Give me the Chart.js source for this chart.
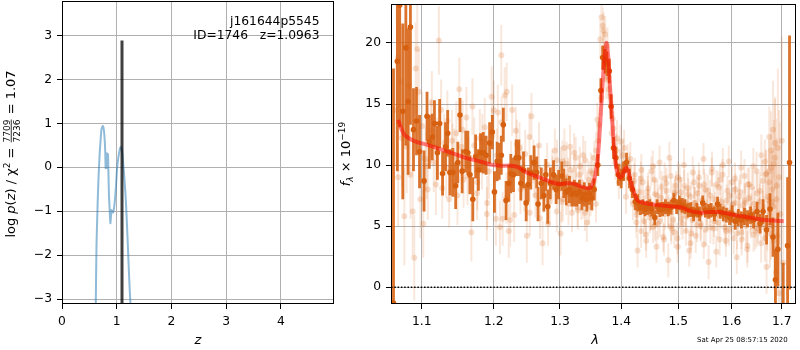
<!DOCTYPE html>
<html><head><meta charset="utf-8">
<script src="https://cdn.jsdelivr.net/npm/chart.js@4.4.1/dist/chart.umd.min.js"></script>
<style>
html,body{margin:0;padding:0;background:#fff;}
#wrap{position:relative;width:800px;height:350px;overflow:hidden;background:#fff;}
#c1{position:absolute;left:0;top:0;}
#c2{position:absolute;left:330px;top:0;}
</style></head><body>
<div id="wrap">
<canvas id="c1" width="340" height="350"></canvas>
<canvas id="c2" width="470" height="350"></canvas>
</div>
<script>
// ---------------- left panel: p(z) ----------------
const zGrid = [0.60,0.616,0.63,0.646,0.665,0.689,0.705,0.72,0.735,0.749,
  0.765,0.78,0.79,0.798,0.808,0.816,0.822,0.829,0.835,0.84,
  0.85,0.859,0.872,0.884,0.893,0.902,0.915,0.932,0.948,0.963,
  0.985,1.005,1.025,1.042,1.058,1.072,1.088,1.103,1.118,1.133,
  1.148,1.163,1.178,1.194,1.209,1.224,1.24,1.255,1.27];
const logPz = [-5,-3.24,-1.8,-1.05,-0.3,0.32,0.62,0.85,0.92,0.94,
  0.85,0.62,0.35,-0.02,0.05,0.32,0.1,-0.02,0.05,0.3,
  -0.2,-0.67,-1.0,-1.27,-1.15,-0.97,-1.0,-1.03,-0.95,-0.8,
  -0.45,-0.05,0.18,0.32,0.42,0.47,0.42,0.32,0.1,-0.14,
  -0.4,-0.67,-1.05,-1.5,-1.95,-2.41,-2.85,-3.24,-5];
const zBest = 1.0963;
const zBestTop = 2.88;
const zTicks = [0,1,2,3,4];
const pzTicks = [-3,-2,-1,0,1,2,3];
const objName = 'j161644p5545';
const objInfo = 'ID=1746   z=1.0963';
const chi2Num = '7709', chi2Den = '7236', chi2Val = '1.07';

// ---------------- right panel: spectrum ----------------
const lamBold = [1.063,1.068,1.071,1.075,1.079,1.082,1.085,1.089,1.093,1.097,
1.103,1.107,1.110,1.114,1.117,1.121,1.124,1.128,1.132,1.135,
1.138,1.142,1.146,1.149,1.152,1.155,1.160,1.163,1.166,1.170,
1.174,1.178,1.181,1.185,1.189,1.194,1.198,1.201,1.205,1.208,
1.211,1.214,1.218,1.222,1.225,1.229,1.233,1.237,1.240,1.244,
1.248,1.251,1.255,1.260,1.264,1.266,1.271,1.275,1.278,1.281,
1.285,1.290,1.294,1.298,1.303,1.306,1.310,1.315,1.319,1.323,
1.327,1.331,1.335,1.339,1.343,1.347,1.351,1.355,1.361,1.366,
1.369,1.373,1.376,1.380,1.383,1.387,1.391,1.395,1.400,1.404,
1.409,1.414,1.419,1.424,1.428,1.433,1.437,1.441,1.445,1.449,
1.453,1.458,1.462,1.467,1.472,1.477,1.482,1.487,1.492,1.497,
1.502,1.507,1.512,1.518,1.523,1.528,1.534,1.539,1.545,1.550,
1.556,1.561,1.567,1.573,1.578,1.584,1.590,1.596,1.601,1.607,
1.613,1.619,1.625,1.631,1.637,1.643,1.650,1.656,1.662,1.669,
1.676,1.682,1.687,1.692,1.703,1.712,1.716];
const fluxBold = [-1.3,18.5,23.1,14.4,19.6,15.2,21.3,12.9,13.6,11.1,
8.7,14.0,11.9,12.3,13.4,11.0,13.4,9.3,11.5,12.6,
9.4,9.4,8.3,10.2,14.1,9.5,11.1,11.0,9.2,7.2,
10.7,9.6,11.0,11.0,10.8,11.8,12.7,7.8,10.3,10.3,
10.8,13.3,7.1,8.5,9.3,9.2,10.6,10.6,8.5,9.6,
6.9,8.4,9.4,10.2,9.4,6.8,8.5,7.5,9.2,6.6,
8.5,9.2,8.0,8.4,9.1,8.5,7.8,8.0,7.6,7.7,
7.6,7.8,7.3,7.6,7.2,7.65,7.3,8.0,10.0,16.1,
18.8,18.5,18.3,17.7,14.8,11.4,10.6,9.2,8.9,9.5,
10.2,8.9,8.0,7.0,6.9,6.5,6.6,6.4,6.5,6.6,
6.4,5.7,6.6,6.35,6.4,6.6,6.4,6.55,7.1,6.6,
6.9,6.7,6.6,6.3,6.35,6.0,6.3,6.0,6.9,6.3,
6.2,6.3,6.0,6.8,6.2,6.0,5.9,5.7,6.0,5.4,
5.7,5.5,5.8,5.6,5.9,5.5,6.2,5.2,6.2,4.7,
6.4,4.1,0.6,3.1,-2.5,3.4,10.2];
const errBold = [19.2,9.0,10.0,7.2,8.0,6.0,8.0,3.4,2.8,3.0,
2.5,2.0,2.2,1.9,1.9,2.2,2.0,1.8,2.0,1.9,
1.9,2.0,1.9,1.7,1.4,1.8,1.7,1.8,1.6,1.8,
1.8,1.7,1.6,1.7,1.6,1.7,1.4,1.7,1.6,1.5,
1.6,1.4,1.6,1.5,1.6,1.4,1.5,1.5,1.4,1.5,
1.5,1.4,1.4,1.4,1.3,1.4,1.3,1.3,1.3,1.4,
1.3,1.2,1.2,1.2,1.2,1.2,1.1,1.1,1.0,1.1,
1.0,1.0,1.0,1.0,1.0,0.9,1.0,0.9,0.9,1.0,
1.0,1.0,1.0,1.0,1.0,0.9,0.9,0.9,0.8,0.8,
0.8,0.8,0.7,0.7,0.7,0.6,0.6,0.6,0.6,0.6,
0.6,0.6,0.6,0.6,0.6,0.6,0.6,0.6,0.6,0.6,
0.6,0.6,0.6,0.6,0.6,0.6,0.6,0.6,0.6,0.6,
0.6,0.6,0.6,0.6,0.6,0.6,0.6,0.6,0.7,0.7,
0.7,0.7,0.7,0.7,0.7,0.7,0.8,0.8,1.0,1.2,
1.3,1.6,2.5,3.0,4.5,5.6,10.4];

const lamFaint = [1.066,1.069,1.072,1.074,1.077,1.080,1.083,1.085,1.088,1.090,
1.092,1.094,1.096,1.098,1.102,1.105,1.108,1.112,1.116,1.119,
1.123,1.126,1.130,1.133,1.137,1.141,1.144,1.147,1.151,1.154,
1.157,1.161,1.164,1.168,1.172,1.176,1.180,1.183,1.187,1.190,
1.193,1.197,1.200,1.203,1.206,1.209,1.211,1.213,1.216,1.219,
1.222,1.224,1.227,1.230,1.234,1.238,1.241,1.245,1.249,1.253,
1.256,1.259,1.262,1.266,1.269,1.273,1.276,1.280,1.284,1.288,
1.292,1.295,1.298,1.301,1.304,1.307,1.310,1.313,1.316,1.319,
1.322,1.325,1.328,1.331,1.334,1.337,1.340,1.343,1.346,1.349,
1.352,1.355,1.358,1.360,1.363,1.365,1.367,1.369,1.371,1.373,
1.375,1.377,1.379,1.382,1.384,1.387,1.390,1.393,1.396,1.399,
1.402,1.405,1.408,1.411,1.414,1.417,1.420,1.423,1.426,1.428,
1.431,1.434,1.437,1.440,1.443,1.446,1.449,1.452,1.455,1.458,
1.461,1.464,1.467,1.470,1.473,1.476,1.479,1.482,1.484,1.487,
1.490,1.493,1.496,1.499,1.502,1.505,1.508,1.511,1.514,1.517,
1.520,1.523,1.526,1.529,1.532,1.535,1.538,1.541,1.544,1.547,
1.550,1.553,1.556,1.559,1.562,1.565,1.568,1.571,1.574,1.577,
1.580,1.583,1.586,1.589,1.592,1.595,1.598,1.601,1.604,1.607,
1.610,1.613,1.616,1.619,1.622,1.625,1.628,1.631,1.634,1.637,
1.640,1.643,1.646,1.649,1.652,1.655,1.658,1.661,1.664,1.667,
1.669,1.672,1.674,1.676,1.678,1.680,1.682,1.684,1.686,1.688,
1.690,1.692,1.694,1.697,1.700,1.703];
const fluxFaint = [14.5,9.0,16.8,12.2,5.8,11.5,16.5,9.2,6.2,2.4,
17.9,19.5,16.0,7.2,5.2,10.5,8.0,12.8,10.2,8.4,
20.2,14.5,11.8,9.8,7.2,12.0,10.6,12.6,16.2,11.5,
8.8,13.9,10.0,4.5,11.6,7.7,12.2,10.3,13.1,6.0,
9.5,15.6,14.5,5.6,14.3,4.9,19.0,5.6,15.7,16.0,
4.6,5.5,14.5,5.9,11.7,11.4,9.6,8.2,4.2,12.3,
14.0,10.3,7.5,9.8,5.65,3.6,8.8,10.0,7.0,9.6,
11.2,6.2,8.0,4.4,10.3,11.4,7.6,9.0,11.5,6.1,
8.4,10.6,6.5,9.2,7.0,10.8,6.1,5.3,8.8,7.3,
9.3,10.6,6.8,13.7,13.3,20.3,22.1,21.4,19.5,20.7,
17.0,19.8,16.2,15.6,12.6,13.0,10.2,12.2,8.6,11.9,
9.8,11.4,7.4,10.3,9.75,8.2,6.8,9.2,5.3,3.0,
7.8,4.6,8.6,6.2,3.8,7.4,5.7,9.5,4.9,7.6,
3.3,6.9,5.4,8.2,4.1,6.0,7.9,2.2,10.6,5.0,
7.2,4.5,8.3,3.3,6.1,7.8,5.2,8.3,4.6,6.8,
3.0,7.4,5.5,8.6,4.2,6.6,9.0,5.0,7.1,3.5,
8.0,5.9,2.05,7.5,9.4,4.8,6.5,8.4,5.3,3.9,
7.0,10.0,5.8,3.8,7.9,4.7,6.3,8.6,4.0,6.9,
2.45,5.5,7.8,4.5,6.7,9.1,5.0,3.4,7.3,5.9,
8.2,4.3,6.4,9.5,5.1,7.0,3.6,8.7,5.6,9.2,
1.65,7.4,9.5,4.4,11.2,7.0,12.9,3.8,10.6,1.2,
8.3,11.4,-0.5,6.0,12.0,2.0];
const errFaint = [4.5,4.0,4.5,4.0,4.0,3.8,4.2,3.6,3.6,3.5,
3.8,4.0,3.5,3.2,2.8,2.6,2.5,2.6,2.4,2.5,
2.8,2.5,2.4,2.5,2.3,2.5,2.4,2.6,2.6,2.4,
2.3,2.5,2.3,2.4,2.3,2.2,2.4,2.3,2.4,2.2,
2.3,2.5,2.4,2.2,2.3,2.2,2.5,2.2,2.3,2.4,
2.2,2.2,2.1,2.2,2.0,2.1,2.1,2.0,2.2,2.0,
1.9,1.8,1.8,1.9,1.7,1.8,1.7,1.8,1.9,1.7,
1.8,1.7,1.6,1.8,1.7,1.6,1.7,1.6,1.8,1.6,
1.6,1.7,1.5,1.6,1.5,1.6,1.5,1.6,1.5,1.5,
1.5,1.4,1.5,1.4,1.5,1.6,1.6,1.5,1.6,1.5,
1.6,1.5,1.5,1.4,1.5,1.4,1.4,1.5,1.4,1.4,
1.4,1.5,1.4,1.4,1.3,1.4,1.3,1.4,1.3,1.4,
1.3,1.4,1.3,1.3,1.4,1.3,1.3,1.2,1.3,1.3,
1.3,1.2,1.3,1.3,1.2,1.3,1.3,1.4,1.3,1.2,
1.3,1.3,1.2,1.3,1.3,1.2,1.3,1.3,1.2,1.3,
1.3,1.2,1.3,1.3,1.4,1.3,1.2,1.3,1.3,1.2,
1.3,1.3,1.4,1.3,1.2,1.3,1.3,1.2,1.3,1.3,
1.3,1.4,1.3,1.3,1.2,1.3,1.4,1.3,1.3,1.4,
1.4,1.3,1.4,1.4,1.3,1.4,1.5,1.4,1.4,1.5,
1.5,1.4,1.5,1.6,1.5,1.5,1.6,1.7,1.8,2.0,
2.2,2.3,2.6,2.8,3.2,3.5,4.0,4.0,4.8,5.0,
5.5,6.5,6.0,7.5,8.5,8.0];

// second faint exposure
const lamFaint2 = [1.3015,1.3045,1.3075,1.3105,1.3135,1.3165,1.3195,1.3225,1.3255,1.3285,
1.3315,1.3345,1.3375,1.3405,1.3435,1.3465,1.3495,1.3525,1.3555,1.3585,
1.3615,1.3665,1.3705,1.3745,1.3785,1.3855,1.3915,1.3975,1.4035,1.4095,
1.4155,1.4215,1.4275,1.4335,1.4395,1.4455,1.4515,1.4575,1.4635,1.4695,
1.4755,1.4815,1.4875,1.4935,1.4995,1.5055,1.5115,1.5175,1.5235,1.5295,
1.5355,1.5415,1.5475,1.5535,1.5595,1.5655,1.5715,1.5775,1.5835,1.5895,
1.5955,1.6015,1.6075,1.6135,1.6195,1.6255,1.6315,1.6375,1.6435,1.6495,
1.6555,1.6615,1.6655,1.6705,1.6745,1.6785,1.6825,1.6865,1.6905,1.6945];
const fluxFaint2 = [9.7,7.2,8.9,10.1,6.8,9.6,7.9,11.0,8.1,6.3,
9.9,8.6,7.1,10.4,8.0,6.6,9.5,7.7,8.7,11.2,
12.0,15.5,21.0,18.4,17.2,13.8,11.2,9.9,10.8,9.0,
10.5,7.9,6.2,8.9,5.4,7.8,6.0,8.8,5.2,7.3,
8.9,6.1,4.8,7.6,9.0,5.6,7.0,8.1,4.4,6.9,
7.7,5.2,8.4,6.4,4.9,7.2,5.9,8.8,6.6,4.6,
7.5,5.7,8.0,6.1,3.9,7.1,8.4,5.4,6.8,4.8,
7.9,6.3,10.3,5.0,8.6,9.8,6.6,11.8,4.2,9.0];
const errFaint2 = [1.8,1.8,1.7,1.8,1.7,1.7,1.7,1.6,1.7,1.6,
1.6,1.6,1.5,1.6,1.5,1.5,1.5,1.5,1.5,1.5,
1.5,1.5,1.5,1.5,1.5,1.5,1.4,1.4,1.4,1.4,
1.4,1.4,1.3,1.4,1.3,1.3,1.3,1.3,1.3,1.3,
1.3,1.3,1.3,1.3,1.3,1.3,1.3,1.3,1.3,1.3,
1.3,1.3,1.3,1.3,1.3,1.3,1.3,1.3,1.3,1.3,
1.3,1.3,1.3,1.3,1.3,1.4,1.4,1.4,1.4,1.5,
1.5,1.6,1.8,2.0,2.4,2.8,3.2,3.8,4.5,5.5];

// third faint exposure
const lamFaint3 = [1.1005,1.1065,1.1135,1.1205,1.1275,1.1345,1.1415,1.1485,1.1555,1.1625,
1.1695,1.1765,1.1835,1.1905,1.1975,1.2045,1.2115,1.2185,1.2255,1.2325,
1.2395,1.2465,1.2535,1.2605,1.2675,1.2745,1.2815,1.2885,1.2955,1.3025,
1.4225,1.4265,1.4305,1.4345,1.4385,1.4425,1.4465,1.4505,1.4545,1.4585,
1.4625,1.4665,1.4705,1.4745,1.4785,1.4825,1.4865,1.4905,1.4945,1.4985,
1.5025,1.5065,1.5105,1.5145,1.5185,1.5225,1.5265,1.5305,1.5345,1.5385,
1.5425,1.5465,1.5505,1.5545,1.5585,1.5625,1.5665,1.5705,1.5745,1.5785,
1.5825,1.5865,1.5905,1.5945,1.5985,1.6025,1.6065,1.6105,1.6145,1.6185,
1.6225,1.6265,1.6305,1.6345,1.6385,1.6425,1.6465,1.6505,1.6545,1.6585,
1.6625,1.6655,1.6685,1.6715,1.6745,1.6775,1.6805,1.6835,1.6865,1.6895];
const fluxFaint3 = [13.2,9.9,15.1,11.3,8.1,13.6,10.9,7.5,12.9,9.1,
14.8,8.6,11.9,6.9,12.4,10.8,13.5,7.3,9.9,12.8,
8.0,10.9,6.1,9.3,11.6,7.9,5.2,8.9,10.4,7.0,
8.7,5.9,7.3,9.6,6.6,4.3,8.1,6.0,9.9,5.1,
7.5,10.2,6.7,3.9,8.5,6.3,9.1,5.5,7.8,4.0,
8.8,6.4,10.0,5.8,7.6,3.6,9.4,6.9,5.1,8.3,
6.0,10.5,4.7,7.9,6.5,9.7,5.4,2.9,8.2,6.1,
9.2,4.9,7.1,10.3,5.6,6.8,8.9,4.4,7.4,9.8,
5.3,6.9,3.1,8.4,6.2,9.9,4.6,7.7,5.8,10.8,
6.6,4.0,9.3,7.1,12.3,5.0,8.0,10.1,3.2,7.2];
const errFaint3 = [2.8,2.7,2.6,2.6,2.5,2.5,2.5,2.4,2.4,2.4,
2.3,2.3,2.3,2.2,2.2,2.2,2.1,2.1,2.1,2.0,
2.0,2.0,1.9,1.9,1.9,1.8,1.8,1.8,1.7,1.7,
1.4,1.4,1.4,1.3,1.4,1.3,1.3,1.4,1.3,1.3,
1.3,1.4,1.3,1.3,1.3,1.3,1.4,1.3,1.3,1.3,
1.3,1.3,1.4,1.3,1.3,1.3,1.3,1.3,1.4,1.3,
1.3,1.3,1.3,1.3,1.3,1.4,1.3,1.3,1.3,1.3,
1.3,1.4,1.3,1.3,1.3,1.4,1.3,1.3,1.4,1.4,
1.4,1.4,1.5,1.4,1.5,1.5,1.5,1.6,1.6,1.7,
1.8,1.9,2.0,2.2,2.5,2.8,3.2,3.6,4.2,5.0];

const lamModel = [1.069,1.073,1.077,1.083,1.093,1.105,1.12,1.135,1.15,1.165,
1.18,1.195,1.21,1.225,1.235,1.245,1.26,1.275,1.29,1.30,
1.31,1.32,1.33,1.34,1.347,1.352,1.357,1.361,1.365,1.369,
1.372,1.375,1.378,1.381,1.385,1.389,1.393,1.397,1.401,1.405,
1.409,1.413,1.418,1.423,1.428,1.435,1.45,1.47,1.49,1.505,
1.515,1.53,1.545,1.56,1.575,1.59,1.605,1.62,1.635,1.65,
1.665,1.68,1.695,1.704];
const fluxModel = [13.7,13.0,12.5,12.2,11.9,11.7,11.4,11.1,10.8,10.5,
10.3,10.05,9.95,9.95,9.85,9.5,9.15,8.85,8.55,8.45,
8.5,8.5,8.3,8.15,8.1,8.4,9.2,10.6,13.5,16.8,
18.8,20.0,19.0,16.5,13.5,10.8,9.5,9.0,9.05,9.5,
9.8,9.3,8.3,7.6,7.1,6.95,6.8,6.7,6.6,6.55,
6.35,6.15,6.1,6.15,6.15,6.05,5.9,5.8,5.7,5.6,
5.5,5.45,5.42,5.4];
const lamTicks = [1.1,1.2,1.3,1.4,1.5,1.6,1.7];
const fluxTicks = [0,5,10,15,20];
const stamp = 'Sat Apr 25 08:57:15 2020';

// ---------------- helpers ----------------
const FONT = 'DejaVu Sans';
const TICK = 12.3;
const ORANGE = '214,96,15';
function pts(xs, ys){ return xs.map((x,i)=>({x:x, y:ys[i]})); }
function bars(xs, ys, es){ const o=[]; xs.forEach((x,i)=>{ o.push({x:x,y:ys[i]-es[i]},{x:x,y:ys[i]+es[i]},{x:x,y:null}); }); return o; }
function fmtNum(v){ return (v<0?'\u2212':'') + Math.abs(v); }

function axis(min, max, tickVals, fmt, fitFn, type){
  return {
    type: type || 'linear', min: min, max: max,
    afterBuildTicks: s => { s.ticks = tickVals.map(v=>({value:v})); },
    afterFit: s => { fitFn(s); s.paddingTop = 0; s.paddingBottom = 0; s.paddingLeft = 0; s.paddingRight = 0; },
    grid: {color:'#b0b0b0', lineWidth:1, tickColor:'#000', tickLength:5, drawOnChartArea:true},
    border: {display:false},
    ticks: {font:{family:FONT, size:TICK}, color:'#000', padding:5, maxRotation:0, autoSkip:false, callback: v => fmt(v)}
  };
}

const framePlugin = {
  id:'frame',
  afterDatasetsDraw(chart){
    const {ctx, chartArea:a} = chart;
    ctx.save(); ctx.strokeStyle='#000'; ctx.lineWidth=1;
    ctx.strokeRect(Math.round(a.left)+0.5, Math.round(a.top)+0.5, Math.round(a.right-a.left)-1, Math.round(a.bottom-a.top)-1);
    ctx.restore();
  }
};

function drawRich(ctx, cx, cy, baseOff, runs){
  ctx.save(); ctx.translate(cx, cy); ctx.rotate(-Math.PI/2);
  let total = 0;
  runs.forEach(r => { ctx.font = r.font;
    r.w = r.frac ? Math.max(ctx.measureText(r.frac[0]).width, ctx.measureText(r.frac[1]).width) + 2 : ctx.measureText(r.t).width;
    total += r.w; });
  let x = -total/2; ctx.fillStyle = '#000'; ctx.textBaseline = 'alphabetic';
  runs.forEach(r => { ctx.font = r.font;
    if (r.frac){
      const mid = x + r.w/2; ctx.textAlign = 'center';
      ctx.fillText(r.frac[0], mid, baseOff + r.numY);
      ctx.fillText(r.frac[1], mid, baseOff + r.denY);
      ctx.fillRect(x+1, baseOff + r.barY, r.w-2, 0.8);
    } else { ctx.textAlign = 'left'; ctx.fillText(r.t, x, baseOff + (r.dy||0)); }
    x += r.w; });
  ctx.restore();
}

const leftText = {
  id:'leftText',
  afterDraw(chart){
    const ctx = chart.ctx; const F = '13px "DejaVu Sans"', FI = 'italic 13px "DejaVu Sans"', FS = '9px "DejaVu Sans"';
    drawRich(ctx, 12, 154, 3, [
      {t:'log ', font:F}, {t:'p', font:FI}, {t:'(', font:F}, {t:'z', font:FI}, {t:') / \u03c7', font:F},
      {t:'2', font:FS, dy:-5}, {t:' = ', font:F},
      {frac:[chi2Num, chi2Den], font:FS, numY:-5.5, denY:5, barY:-4.2},
      {t:' = ' + chi2Val, font:F}
    ]);
    ctx.save(); ctx.fillStyle='#000'; ctx.textAlign='right'; ctx.textBaseline='alphabetic';
    ctx.font = TICK + 'px "DejaVu Sans"';
    ctx.fillText(objName, 319.5, 25);
    ctx.fillText(objInfo, 319.5, 39.3);
    ctx.textAlign='center'; ctx.font = 'italic 13px "DejaVu Sans"';
    ctx.fillText('z', 198, 344);
    ctx.restore();
  }
};

const rightText = {
  id:'rightText',
  afterDraw(chart){
    const ctx = chart.ctx; const F = '13px "DejaVu Sans"', FI = 'italic 13px "DejaVu Sans"', FS = '9px "DejaVu Sans"', FSI = 'italic 9px "DejaVu Sans"';
    drawRich(ctx, 16, 154, 4, [
      {t:'f', font:FI}, {t:'\u03bb', font:FSI, dy:3}, {t:' \u00d7 10', font:F}, {t:'\u221219', font:FS, dy:-5}
    ]);
    ctx.save(); ctx.fillStyle='#000'; ctx.textBaseline='alphabetic';
    ctx.textAlign='center'; ctx.font = 'italic 13px "DejaVu Sans"';
    ctx.fillText('\u03bb', 265, 344);
    ctx.textAlign='right'; ctx.font = '7px "DejaVu Sans"';
    ctx.fillText(stamp, 457.7, 342.3);
    ctx.restore();
  }
};

// ---------------- left chart ----------------
new Chart(document.getElementById('c1'), {
  type:'scatter',
  data:{ datasets:[
    {data: pts(zGrid, logPz), showLine:true, borderColor:'rgba(31,119,180,0.5)', borderWidth:2, pointRadius:0, tension:0.2, order:2},
    {data: [{x:zBest, y:-3.5},{x:zBest, y:zBestTop}], showLine:true, borderColor:'rgba(0,0,0,0.75)', borderWidth:3, pointRadius:0, order:1}
  ]},
  options:{
    responsive:false, animation:false, events:[],
    layout:{padding:{top:1, right:6, left:0, bottom:0}},
    plugins:{legend:{display:false}, tooltip:{enabled:false}},
    scales:{
      x: axis(0, 4.97, zTicks, fmtNum, s => { s.height = 46; }),
      y: axis(-3.107, 3.78, pzTicks, fmtNum, s => { s.width = 62; })
    }
  },
  plugins:[framePlugin, leftText]
});

// ---------------- right chart ----------------
const faintPt = 'rgba('+ORANGE+',0.2)', faintBar = 'rgba('+ORANGE+',0.15)';
new Chart(document.getElementById('c2'), {
  type:'scatter',
  data:{ datasets:[
    {data: [{x:1.0598,y:0},{x:1.7295,y:0}], showLine:true, borderColor:'#000', borderWidth:1.5, borderDash:[1.5,1.8], pointRadius:0, order:0},
    {data: pts(lamModel, fluxModel), showLine:true, borderColor:'rgba(255,0,0,0.5)', borderWidth:4, pointRadius:0, tension:0.3, order:1},
    {data: pts(lamBold, fluxBold), showLine:false, pointRadius:2.8, pointBorderWidth:0, pointBackgroundColor:'rgb('+ORANGE+')', order:2},
    {data: bars(lamBold, fluxBold, errBold), showLine:true, spanGaps:false, borderColor:'rgba('+ORANGE+',0.88)', borderWidth:2.8, pointRadius:0, order:3},
    {data: pts(lamFaint, fluxFaint), showLine:false, pointRadius:3, pointBorderWidth:0, pointBackgroundColor:faintPt, order:4},
    {data: bars(lamFaint, fluxFaint, errFaint), showLine:true, spanGaps:false, borderColor:faintBar, borderWidth:2, pointRadius:0, order:5},
    {data: pts(lamFaint2, fluxFaint2), showLine:false, pointRadius:3, pointBorderWidth:0, pointBackgroundColor:faintPt, order:6},
    {data: bars(lamFaint2, fluxFaint2, errFaint2), showLine:true, spanGaps:false, borderColor:faintBar, borderWidth:2, pointRadius:0, order:7},
    {data: pts(lamFaint3, fluxFaint3), showLine:false, pointRadius:3, pointBorderWidth:0, pointBackgroundColor:faintPt, order:8},
    {data: bars(lamFaint3, fluxFaint3, errFaint3), showLine:true, spanGaps:false, borderColor:faintBar, borderWidth:2, pointRadius:0, order:9}
  ]},
  options:{
    responsive:false, animation:false, events:[],
    layout:{padding:{top:1, right:1, left:0, bottom:0}},
    plugins:{legend:{display:false}, tooltip:{enabled:false}},
    scales:{
      x: axis(1.0598, 1.7295, lamTicks, v => Number(v).toFixed(1), s => { s.height = 46; }, 'logarithmic'),
      y: axis(-1.38, 23.19, fluxTicks, fmtNum, s => { s.width = 61; })
    }
  },
  plugins:[framePlugin, rightText]
});
</script>
</body></html>
